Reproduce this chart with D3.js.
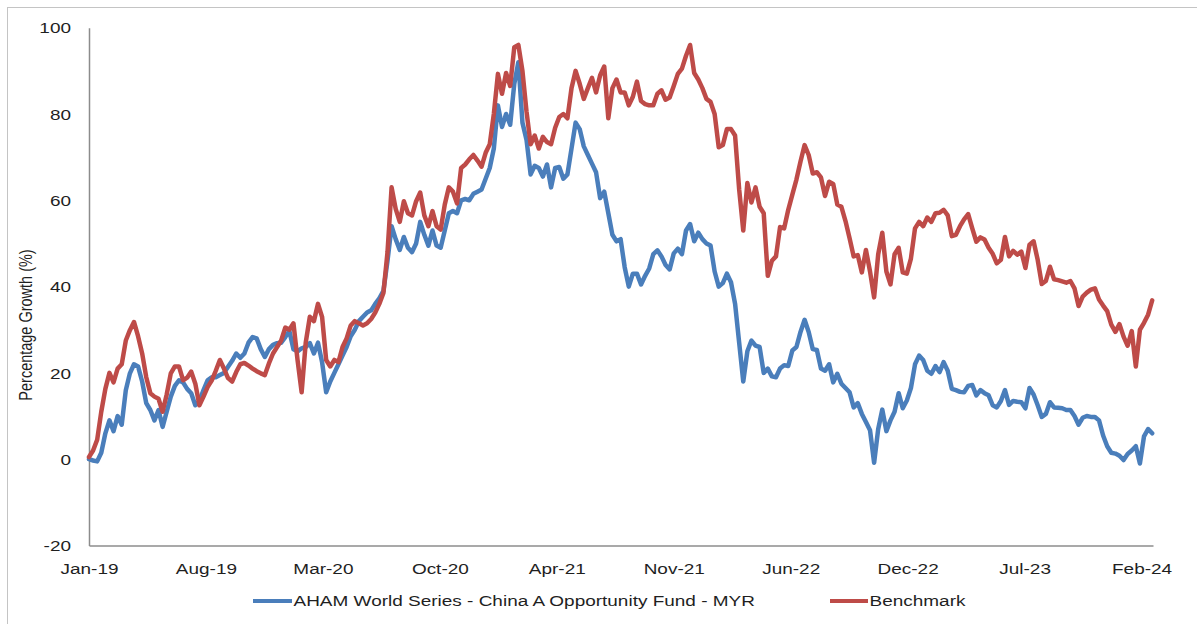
<!DOCTYPE html>
<html><head><meta charset="utf-8">
<script src="https://cdn.jsdelivr.net/npm/d3@7"></script>
<style>html,body{margin:0;padding:0;background:#fff;overflow:hidden}</style>
</head><body>
<svg id="chart" width="1197" height="624"></svg>
<script>
// ---- data ----
const tickLabels = ["Jan-19","Aug-19","Mar-20","Oct-20","Apr-21","Nov-21","Jun-22","Dec-22","Jul-23","Feb-24"];
const tickDays = [0,143,286,429,572,715,858,1001,1144,1287];
const yTicks = [-20,0,20,40,60,80,100];
const seriesNames = ["AHAM World Series - China A Opportunity Fund - MYR","Benchmark"];
const dayStep = 5;      // one value per week (5 trading days)
const lastDay = 1301;   // last trading-day index of the category axis

const fund = [0,-0.3,-0.5,1.5,6,9,6.5,10,8,16,19.9,22,21.5,18,13,11.4,9,11.4,7.5,11,
14.5,17,18.3,17.8,16.3,15.3,12.5,13.5,16,18.3,19,19,19.5,20,21.4,22.8,24.5,23.5,24.5,27,
28.3,28,25.5,23.7,25.5,26.5,26.9,27,28.3,29.7,25.5,25,25.7,26,26.9,24.5,27,22.5,15.5,18,
20,22,24,26,28.5,30,32,33,34,34.5,36,37.3,39,46,54,51,48.5,51.5,49,48,
50,55,52,49.5,53,49.5,49,53,57,57.5,57,60,60.3,60,61.5,62,62.5,65,67.5,72,
82,77,80,77.5,87,92,78,74,66,68,67.5,65.5,68.3,63,67.5,67.7,65,66,72,78,
76.5,72.5,70.5,68.5,66.5,60.5,62,57,52,50.5,51,44.5,40,43,43,40.5,42.5,44.2,47.5,48.4,
47,45,44,47.7,48.8,47.5,53,54.5,50.5,52.5,51,50,49.5,43.5,40,40.8,43,41,36,27,
18,25,27.5,26.3,26,20,21,19.2,19,21,21.8,21.6,25.2,26,29.5,32.3,29.5,25.5,25.3,21,
20.5,22,17.8,19.8,17.5,16.5,15.5,12,13,10.5,8.6,6.7,-0.8,7,11.5,6.5,9,11,15.3,11.8,
13.6,16.5,22,24,23,20.5,19.8,21.6,20.2,22.5,20.5,16.3,16,15.6,15.5,17,17.2,14.8,16,15.3,
14.8,12.5,12,13.5,16,12.6,13.5,13.3,13.2,11.8,16.5,15,12.5,9.8,10.5,13.2,12,11.9,11.8,11.4,
11.4,10,8,9.6,10,9.8,9.8,9,5.5,3,1.5,1.3,0.8,-0.2,1.2,2,3,-1,5.3,7,6];

const bench = [0.5,2,4.5,11,16.3,20,17.8,21,22,27.5,29.9,31.8,28.5,24.5,19,15.3,14.5,14,11,15,
19.9,21.5,21.5,18.3,18.9,20.3,17.5,12.5,14.5,16.7,18.2,20.5,23,21,18.8,18,20.2,22,22.3,21.7,
21,20.4,19.9,19.5,22.2,24.5,26,27.5,30.5,30,31.5,23,15.5,27,33,32,36,33,23,21.5,
23,22.5,26,28,31,32,31.5,31,31.5,32.5,34,36,38.5,48,63,58,55,59.8,57,56.5,
59.8,61.8,56.5,54,57.5,54,53.2,59,63,62,59.3,67.5,68.3,69.5,70.5,69.2,67.8,71,73,80,
89.3,84.7,89.5,86.5,95.5,96,90,80.5,73,75,72,74.7,73.5,73,76.8,79.3,80,79,86,90,
87,83.5,86,88.4,85,89,91,79,86,88,85,85,82,84,87.5,83,82.3,82,82,84.7,
85.5,83.3,83.8,86.5,89.3,90.5,93.5,96,89.5,88,86,83.5,82.8,80,72.3,72.8,76.5,76.5,75,62.5,
53,64,59.5,63,58.5,57,42.5,46,47,53.8,53.5,57.8,61.3,64.8,69,72.8,70.5,66.2,66.5,65.3,
61,64.3,63.8,59,58.5,55.2,51.2,47,47.3,43.3,48.5,43.5,37.5,47.5,52.5,43.5,40.5,47.5,49,43.3,
43,46.5,53.5,55,54,56,55,57,57.1,57.8,56.5,51.7,52,54,55.6,56.8,53.5,50.4,51.4,50.9,
49,47.6,45.4,46.2,51.5,47,48.3,47.4,48.1,44.3,49.7,50.5,46.2,40.6,41.3,44.6,41.7,41.5,41.2,40.9,
41.3,39.6,35.5,37.7,38.6,39.3,39.6,37,35.6,34.3,31.2,29.5,31.3,28.4,26.3,29.7,21.5,30,31.6,33.5,36.8];

// ---- drawing ----
const colors = ["#4A7EBB", "#BE4B48"];
const textColor = "#1f1f1f";
const axisColor = "#8C8C8C";
const FONT = "'Liberation Sans', Arial, sans-serif";
const FS = 14.5;      // font size
const SX = 1.31;      // horizontal stretch of the source image

const svg = d3.select("#chart");
const plot = {left: 89, right: 1153, top: 27.7, bottom: 545.5};

const x = d3.scaleLinear().domain([0, lastDay]).range([plot.left, plot.right]);
const y = d3.scaleLinear().domain([-20, 100]).range([plot.bottom, plot.top]);

// outer frame (right/bottom edges fall outside the picture)
svg.append("rect").attr("x", 7.5).attr("y", 7.5).attr("width", 1210).attr("height", 640)
  .attr("fill", "none").attr("stroke", "#C4C4C4").attr("stroke-width", 1);

// y axis
const gy = svg.append("g").attr("transform", `translate(${plot.left},0)`)
  .call(d3.axisLeft(y).tickValues(yTicks).tickFormat(d => String(d))
    .tickSize(0).tickSizeOuter(0).tickPadding(0));
gy.select(".domain").attr("stroke", axisColor).attr("stroke-width", 1.5);
gy.selectAll(".tick text")
  .attr("x", 0).attr("dy", "0.36em")
  .attr("transform", `translate(-18,0) scale(${SX},1)`)
  .attr("fill", textColor).style("font-family", FONT).style("font-size", FS + "px");

// x axis
const gx = svg.append("g").attr("transform", `translate(0,${plot.bottom})`)
  .call(d3.axisBottom(x).tickValues(tickDays).tickFormat((d, i) => tickLabels[i])
    .tickSize(0).tickSizeOuter(0).tickPadding(0));
gx.select(".domain").attr("stroke", axisColor).attr("stroke-width", 1.5);
gx.selectAll(".tick text")
  .attr("y", 0).attr("dy", null)
  .attr("transform", `translate(0,28.3) scale(${SX},1)`)
  .attr("fill", textColor).style("font-family", FONT).style("font-size", FS + "px");

// y axis title
svg.append("text")
  .attr("transform", `translate(32,325) scale(${SX},1) rotate(-90)`)
  .attr("text-anchor", "middle")
  .attr("fill", textColor).style("font-family", FONT).style("font-size", FS + "px")
  .text("Percentage Growth (%)");

// lines
const line = d3.line().x((d, i) => x(i * dayStep)).y(d => y(d));
[fund, bench].forEach((s, k) => {
  svg.append("path").datum(s)
    .attr("d", line)
    .attr("fill", "none")
    .attr("stroke", colors[k])
    .attr("stroke-width", 4.5)
    .attr("stroke-linejoin", "round")
    .attr("stroke-linecap", "round");
});

// legend
const legendItems = [
  {name: seriesNames[0], color: colors[0], x0: 253, x1: 292},
  {name: seriesNames[1], color: colors[1], x0: 830, x1: 868}
];
const legY = 601;
legendItems.forEach(it => {
  svg.append("line").attr("x1", it.x0).attr("x2", it.x1).attr("y1", legY).attr("y2", legY)
    .attr("stroke", it.color).attr("stroke-width", 4);
  svg.append("text")
    .attr("transform", `translate(${it.x1 + 1.5},${legY + 5.2}) scale(${SX},1)`)
    .attr("fill", textColor).style("font-family", FONT).style("font-size", FS + "px")
    .text(it.name);
});
</script>
</body></html>
